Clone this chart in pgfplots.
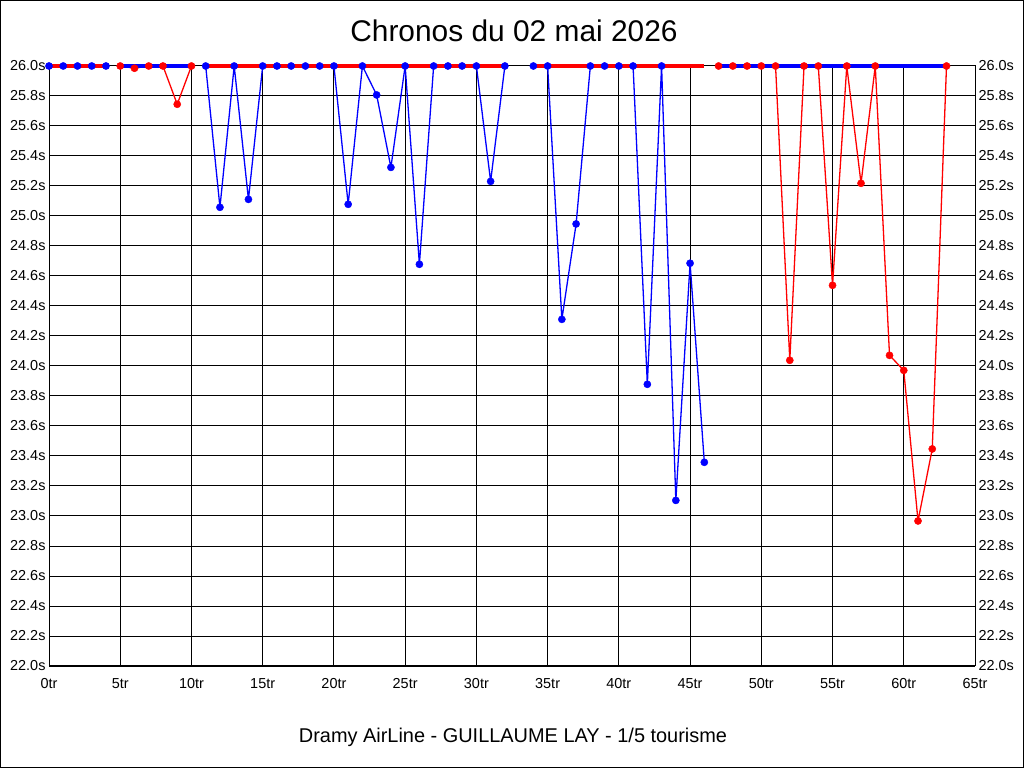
\documentclass[border=0pt]{standalone}
\usepackage{pgfplots}
\usepackage{pgfplotstable}
\pgfplotsset{compat=1.18}
\usepackage{fontspec}
\setmainfont{Liberation Sans}

\definecolor{cblue}{RGB}{0,0,255}
\definecolor{cred}{RGB}{255,0,0}

\pgfplotstableread{
x y
0 26
1 26
2 26
3 26
4 26
}\sA
\pgfplotstableread{
x y
5 26
6 25.985
7 26
8 26
9 25.745
10 26
}\sB
\pgfplotstableread{
x y
11 26
12 25.058
13 26
14 25.111
15 26
16 26
17 26
18 26
19 26
20 26
21 25.078
22 26
23 25.807
24 25.324
25 26
26 24.678
27 26
28 26
29 26
30 26
31 25.231
32 26
}\sC
\pgfplotstableread{
x y
34 26
35 26
36 24.311
37 24.947
38 26
39 26
40 26
41 26
42 23.878
43 26
44 23.104
45 24.685
46 23.358
}\sD
\pgfplotstableread{
x y
47 26
48 26
49 26
50 26
51 26
52 24.038
53 26
54 26
55 24.538
56 26
57 25.218
58 26
59 24.071
60 23.971
61 22.967
62 23.447
63 26
}\sE

\pgfplotsset{
  base/.style={
    at={(49bp,102bp)}, anchor=south west, scale only axis,
    width=926bp, height=600bp,
    xmin=0, xmax=65, ymin=22, ymax=26,
    xtick distance=5, ytick distance=0.2,
    major tick length=0,
    tick label style={font=\fontsize{14.5}{16}\selectfont},
    /pgf/number format/assume math mode=true,
    axis line style={black, line width=1bp},
    yticklabel={\pgfmathprintnumber[fixed,fixed zerofill,precision=1]{\tick}s},
  },
  sline/.style={#1, line width=1.3bp, mark=none, line join=round},
  sbar/.style={#1, line width=3.5bp, mark=none},
  smark/.style={only marks, mark=*, mark size=3.6bp, #1, mark options={fill=#1, draw=#1}},
}

\begin{document}
\begin{tikzpicture}
\path[use as bounding box] (0,0) rectangle (1024bp,768bp);
\begin{axis}[base,
  grid=major, grid style={black, line width=1bp},
  xticklabel={\pgfmathprintnumber[fixed,precision=0]{\tick}tr},
  x tick label style={yshift=-9bp},
  clip=false]
  % session A
  \addplot[sline=cblue] table {\sA};
  \addplot[sbar=cred] coordinates {(0,26) (4,26)};
  \addplot[smark=cblue] table {\sA};
  % session B
  \addplot[sline=cred] table {\sB};
  \addplot[sbar=cblue] coordinates {(5,26) (10,26)};
  \addplot[smark=cred] table {\sB};
  % session C
  \addplot[sline=cblue] table {\sC};
  \addplot[sbar=cred] coordinates {(11,26) (32,26)};
  \addplot[smark=cblue] table {\sC};
  % session D
  \addplot[sline=cblue] table {\sD};
  \addplot[sbar=cred] coordinates {(34,26) (46,26)};
  \addplot[smark=cblue] table {\sD};
  % session E
  \addplot[sline=cred] table {\sE};
  \addplot[sbar=cblue] coordinates {(47,26) (63,26)};
  \addplot[smark=cred] table {\sE};
\end{axis}
\begin{axis}[base,
  axis x line=none, axis y line*=right,
  xticklabels={}]
\end{axis}
\node[anchor=base, font=\fontsize{30}{34}\selectfont, inner sep=0pt] at (514bp,726.3bp) {Chronos du 02 mai 2026};
\node[anchor=base, font=\fontsize{20}{24}\selectfont, inner sep=0pt] at (513bp,25.7bp) {Dramy AirLine - GUILLAUME LAY - 1/5 tourisme};
\draw[black, line width=1bp] (0.5bp,0.5bp) rectangle (1023.5bp,767.5bp);
\end{tikzpicture}
\end{document}
